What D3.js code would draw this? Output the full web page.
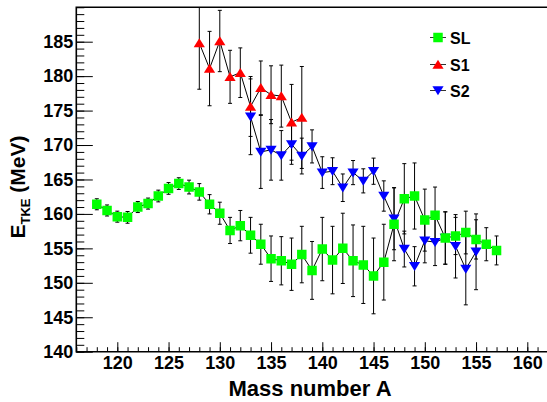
<!DOCTYPE html>
<html>
<head>
<meta charset="utf-8">
<script src="https://cdn.jsdelivr.net/npm/d3@7"></script>
<style>
  html, body { margin: 0; padding: 0; background: #fff; }
  svg { display: block; font-family: "Liberation Sans", Arial, Helvetica, sans-serif; font-weight: bold; }
</style>
</head>
<body>
<svg id="chart" width="547" height="402"></svg>
<script>
// Mass numbers and total kinetic energies (MeV) with uncertainties
const massSL = d3.range(118, 158);
const tkeSL = [161.4, 160.5, 159.6, 159.5, 161.0, 161.5, 162.6, 163.7, 164.4, 163.9,
               163.2, 161.4, 160.1, 157.6, 158.3, 156.9, 155.6, 153.5, 153.2, 152.7,
               154.1, 151.8, 154.9, 153.3, 155.0, 153.2, 152.6, 151.0, 153.0, 158.5,
               162.2, 162.6, 159.1, 159.8, 156.5, 156.8, 157.3, 156.3, 155.6, 154.7];
const errSL = [0.8, 0.8, 0.8, 0.85, 0.8, 0.8, 0.85, 0.85, 0.85, 1.0,
               1.2, 1.4, 1.6, 1.9, 2.2, 2.6, 2.9, 3.3, 3.5, 3.8,
               4.1, 4.2, 4.6, 4.9, 5.1, 5.2, 5.6, 5.5, 5.5, 5.3,
               5.1, 4.8, 4.5, 4.1, 3.8, 2.7, 3.1, 2.85, 2.4, 2.1];

const massS1 = d3.range(128, 139);
const tkeS1 = [184.8, 181.1, 185.1, 179.9, 180.5, 175.6, 178.3, 177.3, 177.1, 173.3, 174.0];
const errS1 = [6.7, 5.4, 4.45, 3.85, 3.6, 4.35, 3.9, 4.2, 4.5, 5.5, 7.4];

const massS2 = d3.range(133, 156);
const tkeS2 = [174.1, 169.0, 169.3, 168.5, 170.1, 168.4, 169.8, 166.0, 166.2, 163.8,
               166.0, 164.8, 166.2, 162.6, 159.3, 154.9, 152.4, 156.1, 155.9, 156.5,
               155.3, 152.0, 154.5];
const errS2 = [5.5, 5.3, 4.4, 3.6, 2.9, 2.6, 2.4, 2.3, 1.95, 2.0,
               1.75, 1.75, 1.9, 2.2, 4.5, 2.6, 2.85, 3.2, 3.4, 3.8,
               4.6, 5.2, 5.5];

const xTicks = [120, 125, 130, 135, 140, 145, 150, 155, 160];
const yTicks = [140, 145, 150, 155, 160, 165, 170, 175, 180, 185];
const seriesNames = ["SL", "S1", "S2"];

const svg = d3.select("#chart");
const frameL = 76.3, frameR = 547.8, frameT = 7.25, frameB = 351.7;

const x = d3.scaleLinear().domain([116, 162]).range([frameL, frameR]);
const y = d3.scaleLinear().domain([140, 190]).range([frameB, frameT]);

svg.append("defs").append("clipPath").attr("id", "frame")
  .append("rect").attr("x", frameL).attr("y", frameT)
  .attr("width", frameR - frameL).attr("height", frameB - frameT);

// Axes with inward ticks
const xMinor = d3.axisBottom(x).tickValues(d3.range(116, 163)).tickSize(-4.5).tickFormat("");
const xMajor = d3.axisBottom(x).tickValues(xTicks).tickSize(-9.5).tickPadding(5).tickFormat(d3.format("d"));
const yMinor = d3.axisLeft(y).tickValues(d3.range(140, 191)).tickSize(-8).tickFormat("");
const yMajor = d3.axisLeft(y).tickValues(yTicks).tickSize(-16.5).tickPadding(3).tickFormat(d3.format("d"));

function styleAxis(g) {
  g.select(".domain").remove();
  g.selectAll(".tick line").attr("stroke", "#000").attr("stroke-width", 1);
  g.selectAll(".tick text").attr("fill", "#000").attr("font-size", 18)
    .attr("font-family", "'Liberation Sans', Arial, sans-serif").attr("font-weight", "bold");
}

svg.append("g").attr("transform", `translate(0,${frameB})`).call(xMinor).call(styleAxis);
svg.append("g").attr("transform", `translate(0,${frameB})`).call(xMajor).call(styleAxis);
svg.append("g").attr("transform", `translate(${frameL},0)`).call(yMinor).call(styleAxis);
svg.append("g").attr("transform", `translate(${frameL},0)`).call(yMajor).call(styleAxis);

// frame: left, bottom and top edges
svg.append("path")
  .attr("d", `M${frameR},${frameT}H${frameL}V${frameB}H${frameR}`)
  .attr("fill", "none").attr("stroke", "#000").attr("stroke-width", 1.6);

// Axis titles
svg.append("text")
  .attr("x", (frameL + frameR) / 2 - 2).attr("y", 396)
  .attr("text-anchor", "middle").attr("font-size", 22).attr("fill", "#000")
  .text("Mass number A");

const yt = svg.append("text")
  .attr("transform", "translate(25,187) rotate(-90)")
  .attr("text-anchor", "middle").attr("font-size", 21).attr("fill", "#000");
yt.append("tspan").text("E");
yt.append("tspan").attr("font-size", 13).attr("dy", 5).text("TKE");
yt.append("tspan").attr("dy", -5).text(" (MeV)");

// Data layers
const plot = svg.append("g").attr("clip-path", "url(#frame)");

function toPoints(mass, tke, err) {
  return mass.map((m, i) => ({ m, v: tke[i], e: err[i] }));
}

const series = [
  { name: seriesNames[2], pts: toPoints(massS2, tkeS2, errS2), color: "#0000ff", shape: "down" },
  { name: seriesNames[1], pts: toPoints(massS1, tkeS1, errS1), color: "#ff0000", shape: "up" },
  { name: seriesNames[0], pts: toPoints(massSL, tkeSL, errSL), color: "#00ff00", shape: "square" }
];

const line = d3.line().x(d => x(d.m)).y(d => y(d.v));

function markerPath(shape) {
  if (shape === "square") return "M-4.75,-4.75H4.75V4.75H-4.75Z";
  if (shape === "up") return "M0,-4.8L5.6,4.2L-5.6,4.2Z";
  return "M0,4.8L5.6,-4.2L-5.6,-4.2Z";
}

series.forEach(s => {
  const g = plot.append("g");
  // error bars with end caps
  const eb = g.selectAll(".eb").data(s.pts).enter().append("g");
  eb.append("line")
    .attr("x1", d => x(d.m)).attr("x2", d => x(d.m))
    .attr("y1", d => y(d.v + d.e)).attr("y2", d => y(d.v - d.e))
    .attr("stroke", "#000").attr("stroke-width", 1);
  [1, -1].forEach(sg => {
    eb.append("line")
      .attr("x1", d => x(d.m) - 2).attr("x2", d => x(d.m) + 2)
      .attr("y1", d => y(d.v + sg * d.e)).attr("y2", d => y(d.v + sg * d.e))
      .attr("stroke", "#000").attr("stroke-width", 1);
  });
  g.append("path").attr("d", line(s.pts))
    .attr("fill", "none").attr("stroke", "#000").attr("stroke-width", 1);
});

series.forEach(s => {
  plot.append("g").selectAll("path").data(s.pts).enter().append("path")
    .attr("d", markerPath(s.shape))
    .attr("transform", d => `translate(${x(d.m)},${y(d.v)})`)
    .attr("fill", s.color);
});

// Legend
const legendItems = [
  { name: seriesNames[0], color: "#00ff00", shape: "square", y: 37.5 },
  { name: seriesNames[1], color: "#ff0000", shape: "up", y: 64.5 },
  { name: seriesNames[2], color: "#0000ff", shape: "down", y: 90.5 }
];
const lg = svg.append("g");
legendItems.forEach(it => {
  lg.append("line").attr("x1", 430).attr("x2", 446).attr("y1", it.y).attr("y2", it.y)
    .attr("stroke", "#333").attr("stroke-width", 1);
  lg.append("path").attr("d", markerPath(it.shape))
    .attr("transform", `translate(438,${it.y})`).attr("fill", it.color);
  lg.append("text").attr("x", 450).attr("y", it.y + 6).attr("font-size", 16)
    .attr("fill", "#000").text(it.name);
});
</script>
</body>
</html>
